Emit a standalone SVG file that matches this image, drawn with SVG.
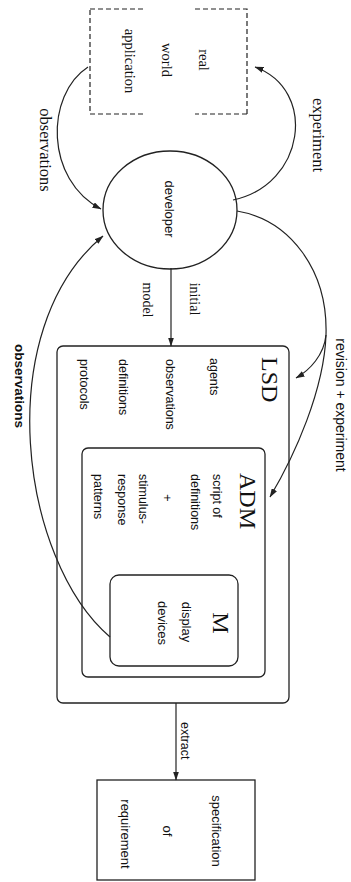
<svg xmlns="http://www.w3.org/2000/svg" width="351" height="882" viewBox="0 0 351 882">
<style>
.bg{fill:#ffffff}
.box{fill:none;stroke:#222;stroke-width:1.3}
.dash{fill:none;stroke:#222;stroke-width:1.2;stroke-dasharray:5 3}
.ln{fill:none;stroke:#222;stroke-width:1.2}
.serif{font-family:"Liberation Serif","Times New Roman",serif;fill:#111}
.sans{font-family:"Liberation Sans",Arial,sans-serif;fill:#111}
.big{font-family:"Liberation Serif","Times New Roman",serif;font-size:24px;fill:#111}
</style>
<defs>
<marker id="ah" markerWidth="9" markerHeight="6" refX="8.5" refY="3" orient="auto" markerUnits="userSpaceOnUse">
<path d="M0,0 L9,3 L0,6 z" fill="#222"/>
</marker>
</defs>
<rect class="bg" x="0" y="0" width="351" height="882"/>

<g id="real-world">
<path class="dash" d="M90,9 H143 M195,9 H247 V114 M247,114 H195 M143,114 H90 V9"/>
<text class="serif" font-size="14.5" text-anchor="middle" transform="translate(199,60) rotate(90)">real</text>
<text class="serif" font-size="14.5" text-anchor="middle" transform="translate(162,60) rotate(90)">world</text>
<text class="serif" font-size="14.5" text-anchor="middle" transform="translate(125,61) rotate(90)">application</text>
</g>

<g id="developer">
<ellipse class="box" cx="170" cy="210" rx="67" ry="59"/>
<text class="sans" font-size="13" text-anchor="middle" transform="translate(165,209) rotate(90)">developer</text>
</g>

<g id="lsd">
<rect class="box" x="57" y="346" width="232" height="357" rx="6"/>
<text class="big" transform="translate(262,357) rotate(90)">LSD</text>
<text class="sans" font-size="12.5" transform="translate(210,358) rotate(90)">agents</text>
<text class="sans" font-size="12.5" transform="translate(166,359) rotate(90)">observations</text>
<text class="sans" font-size="12.5" transform="translate(119,359) rotate(90)">definitions</text>
<text class="sans" font-size="12.5" transform="translate(80,359) rotate(90)">protocols</text>
</g>

<g id="adm">
<rect class="box" x="82" y="448" width="183" height="229" rx="6"/>
<text class="big" transform="translate(240,473) rotate(90)">ADM</text>
<text class="sans" font-size="12.5" transform="translate(213,474) rotate(90)">script of</text>
<text class="sans" font-size="12.5" transform="translate(191,474) rotate(90)">definitions</text>
<text class="sans" font-size="12.5" text-anchor="middle" transform="translate(163,498) rotate(90)">+</text>
<text class="sans" font-size="12.5" transform="translate(139,474) rotate(90)">stimulus-</text>
<text class="sans" font-size="12.5" transform="translate(118,474) rotate(90)">response</text>
<text class="sans" font-size="12.5" transform="translate(94,474) rotate(90)">patterns</text>
</g>

<g id="m">
<rect class="box" x="110" y="575" width="128" height="91" rx="9"/>
<text class="big" text-anchor="middle" transform="translate(213,623) rotate(90)">M</text>
<text class="sans" font-size="13" text-anchor="middle" transform="translate(182,622) rotate(90)">display</text>
<text class="sans" font-size="13" text-anchor="middle" transform="translate(158,623) rotate(90)">devices</text>
</g>

<g id="spec">
<rect class="box" x="97" y="780" width="158" height="100"/>
<text class="sans" font-size="13" text-anchor="middle" transform="translate(212,831) rotate(90)">specification</text>
<text class="sans" font-size="13" text-anchor="middle" transform="translate(163,831) rotate(90)">of</text>
<text class="sans" font-size="13" text-anchor="middle" transform="translate(121,834) rotate(90)">requirement</text>
</g>

<g id="connectors">
<path class="ln" d="M88,67 C45,95 45,180 101,209" marker-end="url(#ah)"/>
<path class="ln" d="M233,200 C305,185 318,90 255,67" marker-end="url(#ah)"/>
<path class="ln" d="M171,268 V346" marker-end="url(#ah)"/>
<path class="ln" d="M237,211 C290,220 328,270 326,335"/>
<path class="ln" d="M326,335 C324,355 310,370 296,378" marker-end="url(#ah)"/>
<path class="ln" d="M326,335 C324,390 295,455 270,497" marker-end="url(#ah)"/>
<path class="ln" d="M110,637 C20,560 -10,330 103,236" marker-end="url(#ah)"/>
<path class="ln" d="M176,703 V780" marker-end="url(#ah)"/>
</g>

<g id="labels">
<text class="serif" font-size="16.5" text-anchor="middle" transform="translate(313,135) rotate(90)">experiment</text>
<text class="serif" font-size="16.5" text-anchor="middle" transform="translate(40,150) rotate(90)">observations</text>
<text class="serif" font-size="14" text-anchor="middle" transform="translate(190,299) rotate(90)">initial</text>
<text class="serif" font-size="14" text-anchor="middle" transform="translate(143,300) rotate(90)">model</text>
<text class="sans" font-size="14" text-anchor="middle" transform="translate(336,405) rotate(90)">revision + experiment</text>
<text class="sans" font-size="13.5" font-weight="bold" text-anchor="middle" transform="translate(15,386) rotate(90)">observations</text>
<text class="sans" font-size="12.5" transform="translate(181,722) rotate(90)">extract</text>
</g>
</svg>
